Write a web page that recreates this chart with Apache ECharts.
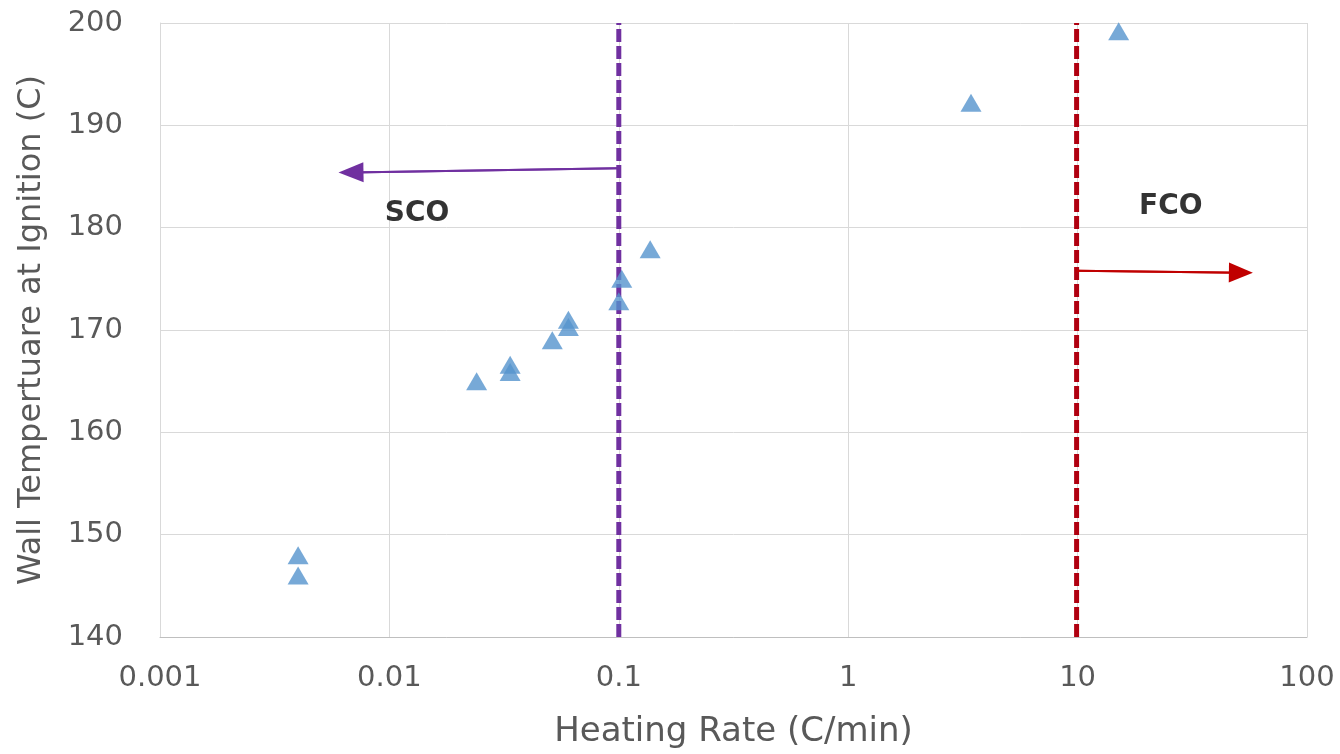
<!DOCTYPE html>
<html>
<head>
<meta charset="utf-8">
<script src="https://cdn.jsdelivr.net/npm/echarts@6/dist/echarts.min.js"></script>
<style>
html,body{margin:0;padding:0;background:#fff;}
#chart{width:1340px;height:754px;}
</style>
</head>
<body>
<div id="chart"></div>
<script>
// Data
const heatingRate = [0.004, 0.004, 0.024, 0.0336, 0.0336, 0.0513, 0.0603, 0.0603, 0.100, 0.103, 0.137, 3.43, 15.1];
const wallTemp    = [148.0, 146.0, 165.0, 166.6, 165.9, 169.0, 171.0, 170.3, 172.8, 175.0, 177.9, 192.2, 199.2];
const xTicks = [0.001, 0.01, 0.1, 1, 10, 100];
const yTicks = [140, 150, 160, 170, 180, 190, 200];
const scoLine = [[0.1, 140], [0.1, 200]];
const fcoLine = [[9.9, 140], [9.9, 200]];
const scoArrow = [[0.1, 185.8], [0.0068, 185.4]];
const fcoArrow = [[9.9, 175.8], [51.5, 175.6]];
const regionLabels = [["SCO", 0.0132, 181.4], ["FCO", 25.5, 182.0]];

const chart = echarts.init(document.getElementById('chart'));
const font = "'DejaVu Sans', sans-serif";
const grey = '#595959';

chart.setOption({
  animation: false,
  backgroundColor: '#ffffff',
  grid: {left: 160, right: 33, top: 23, bottom: 117, containLabel: false},
  xAxis: {
    type: 'log', logBase: 10,
    min: xTicks[0], max: xTicks[xTicks.length - 1],
    name: 'Heating Rate (C/min)', nameLocation: 'middle', nameGap: 78,
    nameTextStyle: {fontFamily: font, fontSize: 34, color: grey},
    axisLine: {show: true, lineStyle: {color: '#bfbfbf', width: 1}},
    axisTick: {show: false},
    splitLine: {show: true, lineStyle: {color: '#d9d9d9', width: 1}},
    axisLabel: {fontFamily: font, fontSize: 29, color: grey, margin: 27,
      formatter: v => { const t = xTicks.find(k => Math.abs(Math.log10(k) - Math.log10(v)) < 1e-6); return t !== undefined ? String(t) : ''; }}
  },
  yAxis: {
    type: 'value', min: yTicks[0], max: yTicks[yTicks.length - 1], interval: 10,
    name: 'Wall Tempertuare at Ignition (C)', nameLocation: 'middle', nameGap: 112,
    nameTextStyle: {fontFamily: font, fontSize: 32, color: grey},
    axisLine: {show: true, lineStyle: {color: '#d9d9d9', width: 1}},
    axisTick: {show: false},
    splitLine: {show: true, lineStyle: {color: '#d9d9d9', width: 1}},
    axisLabel: {fontFamily: font, fontSize: 29, color: grey, margin: 37}
  },
  series: [
    {
      type: 'line', data: scoLine, symbol: 'none', silent: true, z: 3,
      lineStyle: {color: '#7030a0', width: 5, type: [13, 4]}
    },
    {
      type: 'line', data: fcoLine, symbol: 'none', silent: true, z: 3,
      lineStyle: {color: '#b00010', width: 5, type: [13, 4]}
    },
    {
      type: 'line', data: scoArrow, showSymbol: false, silent: true, z: 4,
      lineStyle: {color: '#7030a0', width: 2},
      markLine: {silent: true, symbol: ['none', 'triangle'], symbolSize: [20, 25], label: {show: false},
        lineStyle: {color: '#7030a0', width: 2, type: 'solid'},
        data: [[{coord: scoArrow[0]}, {coord: scoArrow[1]}]]}
    },
    {
      type: 'line', data: fcoArrow, showSymbol: false, silent: true, z: 4,
      lineStyle: {color: '#c00000', width: 2},
      markLine: {silent: true, symbol: ['none', 'triangle'], symbolSize: [20, 24], label: {show: false},
        lineStyle: {color: '#c00000', width: 2, type: 'solid'},
        data: [[{coord: fcoArrow[0]}, {coord: fcoArrow[1]}]]}
    },
    {
      type: 'scatter', data: heatingRate.map((x, i) => [x, wallTemp[i]]),
      symbol: 'triangle', symbolSize: [21, 18], z: 5,
      itemStyle: {color: '#5593cd'}
    },
    {
      type: 'scatter', symbolSize: 0, silent: true, z: 6,
      data: regionLabels.map(r => ({value: [r[1], r[2]], name: r[0]})),
      label: {show: true, position: 'inside', formatter: p => p.name,
        fontFamily: font, fontSize: 28, fontWeight: 'bold', color: '#000'}
    }
  ]
});
</script>
</body>
</html>
